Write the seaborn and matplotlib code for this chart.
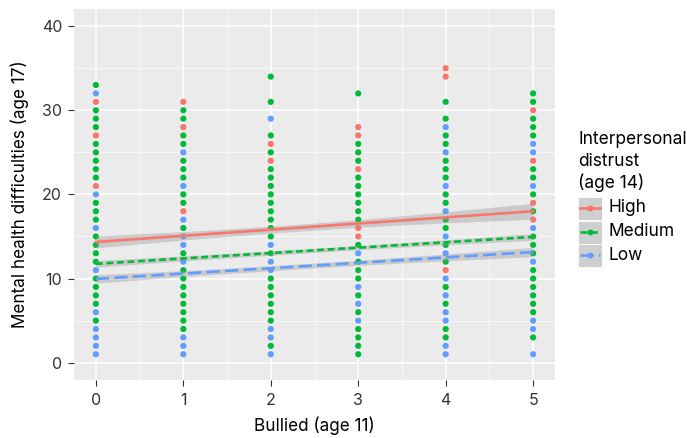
import numpy as np
import pandas as pd
import matplotlib
matplotlib.use("Agg")
import matplotlib.pyplot as plt
import seaborn as sns
from matplotlib.lines import Line2D
from matplotlib.patches import Rectangle

# visible point colour per score (index = score - 1), one string per bullied level
# H = High, M = Medium, L = Low, '.' = no point
col_0 = "LLLLMLMMMMLMMMMLMMMLHMMMMMHMMMHLM"
col_1 = "LLLMMMMMMMMLMLLMLHMMLMMMLMMHMMH"
col_2 = "LMLLMMMMMMLLMLMMMMMMMMMHMHM.L.M..M"
col_3 = "MMMMLMLMLMMMLMHHMMMMMMHMMMHH...M"
col_4 = "LLMMLLMLMLHMLMLMMLMMLMMMLMMLM.M..HH"
col_5 = "L.MLLMMMMMMLMMMLHMHMLMMHLLMMMHMM"
columns = [col_0, col_1, col_2, col_3, col_4, col_5]

groups = ["High", "Medium", "Low"]
colors = ["#F8766D", "#00BA38", "#619CFF"]
codes = {"H": "High", "M": "Medium", "L": "Low"}

# fitted lines (intercept, slope) and CI half-widths at bullied = 0..5
fit_intercept = [14.35, 11.75, 9.95]
fit_slope = [0.73, 0.64, 0.64]
ci_high = [0.70, 0.50, 0.40, 0.45, 0.65, 0.95]
ci_medium = [0.40, 0.30, 0.25, 0.25, 0.30, 0.40]
ci_low = [0.50, 0.35, 0.30, 0.30, 0.40, 0.55]
ci_half = [ci_high, ci_medium, ci_low]
bullied = [0, 1, 2, 3, 4, 5]

rows = []
for b, s in zip(bullied, columns):
    for i, c in enumerate(s):
        if c != ".":
            rows.append((b, i + 1, codes[c]))
df = pd.DataFrame(rows, columns=["bullied", "mh", "distrust"])

FONT = "Inter"
fig = plt.figure(figsize=(6.87, 4.38), dpi=100)
ax = fig.add_axes([74 / 687, 1 - 379.5 / 438, (555 - 74) / 687, (379.5 - 9.3) / 438])
ax.set_facecolor("#EBEBEB")

sns.scatterplot(data=df, x="bullied", y="mh", hue="distrust", hue_order=groups,
                palette=colors, s=20, linewidth=0, legend=False, ax=ax, zorder=3)

styles = ["-", (0, (2.6, 1.4)), (0, (5.0, 2.0))]
xs = np.array(bullied, dtype=float)
for g, col, a, b, ci, ls in zip(groups, colors, fit_intercept, fit_slope, ci_half, styles):
    yfit = a + b * xs
    ax.fill_between(xs, yfit - np.array(ci), yfit + np.array(ci),
                    color="#999999", alpha=0.4, linewidth=0, zorder=4)
    ax.plot(xs, yfit, color=col, lw=1.9, linestyle=ls, zorder=5)

ax.set_xticks(bullied)
ax.set_yticks([0, 10, 20, 30, 40])
ax.set_xticks([0.5, 1.5, 2.5, 3.5, 4.5], minor=True)
ax.set_yticks([5, 15, 25, 35], minor=True)
ax.set_xlim(-0.25, 5.25)
ax.set_ylim(-2, 42)
ax.grid(which="major", color="white", lw=1.1)
ax.grid(which="minor", color="white", lw=0.5)
ax.set_axisbelow(True)
for sp in ax.spines.values():
    sp.set_visible(False)
ax.tick_params(which="major", length=4.3, width=0.8, color="#333333",
               labelsize=11.5, labelcolor="#333333")
ax.tick_params(axis="x", pad=5.5)
ax.tick_params(axis="y", pad=4.3)
ax.tick_params(which="minor", length=0)
for t in ax.get_xticklabels() + ax.get_yticklabels():
    t.set_fontfamily(FONT)

ax.set_xlabel("Bullied (age 11)", fontsize=12.3, family=FONT, labelpad=6)
ax.set_ylabel("Mental health difficulties (age 17)", fontsize=12.3, family=FONT, labelpad=9)

# legend drawn by hand in figure pixels
W, H = 687, 438
def fx(px): return px / W
def fy(py): return 1 - py / H

for txt, ly in zip(["Interpersonal", "distrust", "(age 14)"], [140, 162, 183]):
    fig.text(fx(578), fy(ly), txt, fontsize=12.5, family=FONT, va="center", ha="left")
key_y = [208, 232, 255]
for g, col, ls, ky in zip(groups, colors, styles, key_y):
    fig.patches.append(Rectangle((fx(578), fy(ky + 11.5)), 24 / W, 23 / H,
                                 transform=fig.transFigure, facecolor="#CFCFCF",
                                 edgecolor="white", lw=0.6))
    fig.lines.append(Line2D([fx(580), fx(600)], [fy(ky), fy(ky)], transform=fig.transFigure,
                            color=col, lw=1.9, linestyle=ls))
    fig.lines.append(Line2D([fx(590)], [fy(ky)], transform=fig.transFigure, marker="o",
                            markersize=4.3, color=col, markeredgewidth=0))
    fig.text(fx(608), fy(ky), g, fontsize=12.5, family=FONT, va="center", ha="left")

fig.savefig("out.png", dpi=100)
